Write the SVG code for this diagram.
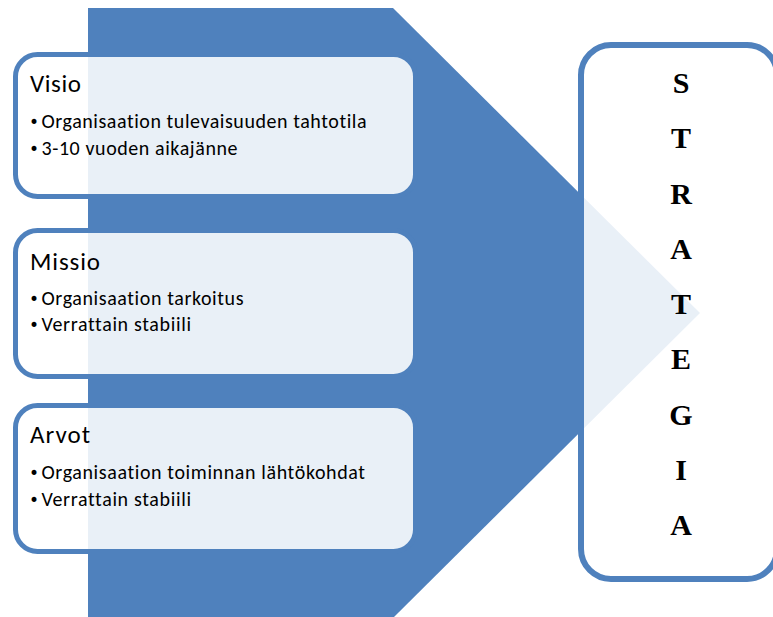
<svg xmlns="http://www.w3.org/2000/svg" width="773" height="617" viewBox="0 0 773 617">
  <style>
    .arrow { fill: #4f81bd; }
    .card { fill: #ffffff; fill-opacity: 0.88; stroke: #4f81bd; stroke-width: 5; }
    .strat { fill: #ffffff; fill-opacity: 0.88; stroke: #4f81bd; stroke-width: 6; }
    .title { font-family: Carlito, Calibri, Lato, "Liberation Sans", sans-serif; font-size: 25px; fill: #000; font-variant-ligatures: none; }
    .item { font-family: Carlito, Calibri, Lato, "Liberation Sans", sans-serif; font-size: 20px; fill: #000; font-variant-ligatures: none; }
    .bullet { font-family: "DejaVu Sans", sans-serif; font-size: 17px; fill: #000; }
    .letter { font-family: "Liberation Serif", "Times New Roman", serif; font-size: 30px; font-weight: bold; fill: #000; text-anchor: middle; }
  </style>

  <!-- large block arrow behind the cards -->
  <g id="backdrop-arrow">
    <polygon class="arrow" points="88,8 393,8 700,313 393,618 88,618"/>
  </g>

  <g id="connectors"/>

  <g id="visio">
    <rect class="card" x="15.5" y="54.5" width="400" height="142" rx="22"/>
    <text class="title" x="30" y="92" textLength="51">Visio</text>
    <text class="bullet" x="29" y="128">•</text>
    <text class="item" x="41.5" y="128" textLength="325">Organisaation tulevaisuuden  tahtotila</text>
    <text class="bullet" x="29" y="155">•</text>
    <text class="item" x="41.5" y="155" textLength="196">3-10 vuoden  aikajänne</text>
  </g>

  <g id="missio">
    <rect class="card" x="15.5" y="230.5" width="400" height="146" rx="22"/>
    <text class="title" x="30" y="269.5" textLength="70">Missio</text>
    <text class="bullet" x="29" y="304.5">•</text>
    <text class="item" x="41.5" y="304.5" textLength="202">Organisaation tarkoitus</text>
    <text class="bullet" x="29" y="331">•</text>
    <text class="item" x="41.5" y="331" textLength="149.5">Verrattain stabiili</text>
  </g>

  <g id="arvot">
    <rect class="card" x="15.5" y="405.5" width="400" height="146" rx="22"/>
    <text class="title" x="30" y="443" textLength="60">Arvot</text>
    <text class="bullet" x="29" y="478.5">•</text>
    <text class="item" x="41.5" y="478.5" textLength="323.5">Organisaation toiminnan  lähtökohdat</text>
    <text class="bullet" x="29" y="506">•</text>
    <text class="item" x="41.5" y="506" textLength="149.5">Verrattain stabiili</text>
  </g>

  <g id="strategia">
    <rect class="strat" x="581" y="45" width="196" height="534" rx="30"/>
    <text class="letter" x="681" y="93">S</text>
    <text class="letter" x="681" y="148.3">T</text>
    <text class="letter" x="681" y="203.5">R</text>
    <text class="letter" x="681" y="258.8">A</text>
    <text class="letter" x="681" y="314">T</text>
    <text class="letter" x="681" y="369.3">E</text>
    <text class="letter" x="681" y="424.5">G</text>
    <text class="letter" x="681" y="479.8">I</text>
    <text class="letter" x="681" y="535">A</text>
  </g>
</svg>
